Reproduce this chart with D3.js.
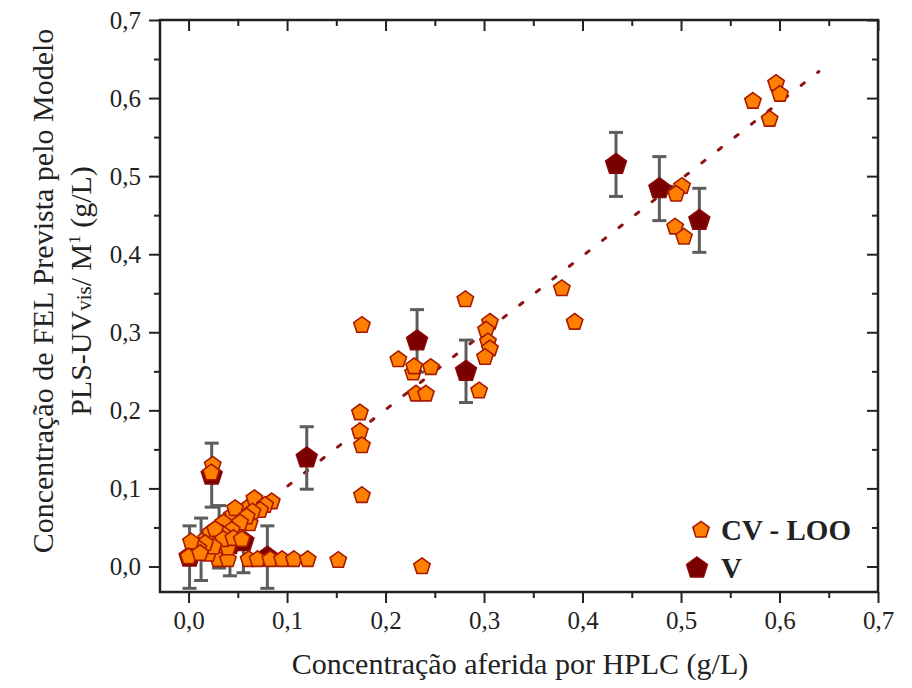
<!DOCTYPE html>
<html>
<head>
<meta charset="utf-8">
<script src="https://cdn.jsdelivr.net/npm/d3@7"></script>
<style>
  html, body { margin: 0; padding: 0; background: #fff; }
  svg { display: block; }
  text { font-family: "Liberation Serif", "Times New Roman", serif; fill: #222; }
</style>
</head>
<body>
<svg id="chart" width="912" height="688"></svg>
<script>
// Cross-validation (leave-one-out) predictions: HPLC value vs model prediction
const cvX = [0.5965, 0.6005, 0.573, 0.590, 0.501, 0.495, 0.494, 0.503,
  0.379, 0.392, 0.281, 0.306, 0.302, 0.304, 0.306, 0.301, 0.295,
  0.213, 0.228, 0.229, 0.246, 0.231, 0.241,
  0.176, 0.174, 0.174, 0.176, 0.176, 0.152, 0.237,
  0.030, 0.040, 0.061, 0.070, 0.083, 0.095, 0.107, 0.121,
  0.005, 0.018, 0.022, 0.030, 0.040, 0.045, 0.055, 0.061, 0.072, 0.050, 0.040, 0.062, 0.020, 0.0015, 0.013,
  0.0845, 0.0668, 0.0777, 0.0726, 0.0648, 0.0472, 0.059, 0.0523, 0.0353, 0.0438,
  0.0337, 0.027, 0.0353, 0.0455, 0.054, 0.0252, 0.0168, 0.010, 0.0025, 0.000, 0.0117,
  0.0245, 0.023];
const cvY = [0.619, 0.605, 0.596, 0.573, 0.487, 0.477, 0.435, 0.422,
  0.356, 0.313, 0.342, 0.313, 0.303, 0.288, 0.279, 0.268, 0.225,
  0.265, 0.248, 0.256, 0.255, 0.221, 0.221,
  0.309, 0.197, 0.173, 0.155, 0.091, 0.008, 0.000,
  0.009, 0.009, 0.009, 0.009, 0.009, 0.009, 0.009, 0.009,
  0.022, 0.036, 0.043, 0.050, 0.060, 0.066, 0.068, 0.076, 0.080, 0.045, 0.024, 0.055, 0.016, 0.015, 0.024,
  0.083, 0.087, 0.0785, 0.072, 0.070, 0.0743, 0.0636, 0.056, 0.056, 0.0466,
  0.0424, 0.0475, 0.0347, 0.036, 0.0347, 0.0253, 0.0296, 0.023, 0.0317, 0.0125, 0.0168,
  0.130, 0.120];

// External validation set with standard deviation bars
const vX = [0.001, 0.0127, 0.031, 0.042, 0.0557, 0.080,
  0.0235, 0.120, 0.232, 0.2817, 0.434, 0.478, 0.5186];
const vY = [0.012, 0.022, 0.038, 0.028, 0.032, 0.012,
  0.117, 0.139, 0.289, 0.250, 0.515, 0.484, 0.4434];
const vErr = [0.040, 0.040, 0.040, 0.040, 0.040, 0.040,
  0.041, 0.040, 0.040, 0.040, 0.041, 0.041, 0.041];

// Regression trend line end points
const fitX = [0.0, 0.64];
const fitY = [0.004, 0.634];

const majorTicks = [0, 0.1, 0.2, 0.3, 0.4, 0.5, 0.6, 0.7];
const minorTicks = [0.05, 0.15, 0.25, 0.35, 0.45, 0.55, 0.65];
const xTitle = "Concentração aferida por HPLC (g/L)";
const yTitle1 = "Concentração de FEL Prevista pelo Modelo";
const legendNames = ["CV - LOO", "V"];

const svg = d3.select("#chart");
const plotL = 160, plotR = 878, plotT = 20, plotB = 592;

const x = d3.scaleLinear().domain([-0.029, 0.7]).range([plotL, plotR]);
const y = d3.scaleLinear().domain([-0.0327, 0.7]).range([plotB, plotT]);

const fmt = d => d3.format(".1f")(d).replace(".", ",");

// Pentagon symbol (point up)
const pentagon = {
  draw(context, size) {
    const r = Math.sqrt(size / 2.3776);
    for (let i = 0; i < 5; i++) {
      const a = -Math.PI / 2 + i * 2 * Math.PI / 5;
      const px = r * Math.cos(a), py = r * Math.sin(a);
      if (i === 0) context.moveTo(px, py); else context.lineTo(px, py);
    }
    context.closePath();
  }
};
const cvSymbol = d3.symbol().type(pentagon).size(2.3776 * 8.6 * 8.6);
const vSymbol = d3.symbol().type(pentagon).size(2.3776 * 11 * 11);

// Axes: outward ticks at bottom/left, inward ticks at top/right
function styleAxis(g) {
  g.select(".domain").remove();
  g.selectAll(".tick line").attr("stroke", "#222").attr("stroke-width", 2);
}
svg.append("g").attr("transform", `translate(0,${plotB})`)
  .call(d3.axisBottom(x).tickValues(majorTicks).tickFormat(fmt).tickSize(11).tickPadding(8))
  .call(styleAxis)
  .call(g => g.selectAll("text").attr("font-size", 25).attr("font-family", "Liberation Serif, serif").attr("fill", "#222"));
svg.append("g").attr("transform", `translate(0,${plotB})`)
  .call(d3.axisBottom(x).tickValues(minorTicks).tickFormat("").tickSize(6)).call(styleAxis);

svg.append("g").attr("transform", `translate(${plotL},0)`)
  .call(d3.axisLeft(y).tickValues(majorTicks).tickFormat(fmt).tickSize(11).tickPadding(8))
  .call(styleAxis)
  .call(g => g.selectAll("text").attr("font-size", 25).attr("font-family", "Liberation Serif, serif").attr("fill", "#222"));
svg.append("g").attr("transform", `translate(${plotL},0)`)
  .call(d3.axisLeft(y).tickValues(minorTicks).tickFormat("").tickSize(6)).call(styleAxis);

svg.append("g").attr("transform", `translate(0,${plotT})`)
  .call(d3.axisTop(x).tickValues(majorTicks).tickFormat("").tickSize(-11)).call(styleAxis);
svg.append("g").attr("transform", `translate(0,${plotT})`)
  .call(d3.axisTop(x).tickValues(minorTicks).tickFormat("").tickSize(-6)).call(styleAxis);
svg.append("g").attr("transform", `translate(${plotR},0)`)
  .call(d3.axisRight(y).tickValues(majorTicks).tickFormat("").tickSize(-11)).call(styleAxis);
svg.append("g").attr("transform", `translate(${plotR},0)`)
  .call(d3.axisRight(y).tickValues(minorTicks).tickFormat("").tickSize(-6)).call(styleAxis);

// Frame
svg.append("rect").attr("x", plotL).attr("y", plotT)
  .attr("width", plotR - plotL).attr("height", plotB - plotT)
  .attr("fill", "none").attr("stroke", "#222").attr("stroke-width", 2.5);

// Trend line (dotted)
svg.append("path")
  .datum(fitX.map((d, i) => [d, fitY[i]]))
  .attr("d", d3.line().x(d => x(d[0])).y(d => y(d[1])))
  .attr("fill", "none").attr("stroke", "#8e1212").attr("stroke-width", 3)
  .attr("stroke-dasharray", "4 17").attr("stroke-linecap", "round");

// Error bars for V
const vData = vX.map((d, i) => ({ x: d, y: vY[i], e: vErr[i] }));
const eb = svg.append("g").attr("stroke", "#5c5c5c").attr("stroke-width", 3);
eb.selectAll("line.v").data(vData).join("line").attr("class", "v")
  .attr("x1", d => x(d.x)).attr("x2", d => x(d.x))
  .attr("y1", d => y(d.y + d.e)).attr("y2", d => y(d.y - d.e));
eb.selectAll("line.top").data(vData).join("line").attr("class", "top")
  .attr("x1", d => x(d.x) - 7).attr("x2", d => x(d.x) + 7)
  .attr("y1", d => y(d.y + d.e)).attr("y2", d => y(d.y + d.e));
eb.selectAll("line.bot").data(vData).join("line").attr("class", "bot")
  .attr("x1", d => x(d.x) - 7).attr("x2", d => x(d.x) + 7)
  .attr("y1", d => y(d.y - d.e)).attr("y2", d => y(d.y - d.e));

// V markers
svg.append("g").selectAll("path").data(vData).join("path")
  .attr("d", vSymbol)
  .attr("transform", d => `translate(${x(d.x)},${y(d.y)})`)
  .attr("fill", "#7a0000").attr("stroke", "#8a0a0a").attr("stroke-width", 1.5);

// CV markers
const cvData = cvX.map((d, i) => ({ x: d, y: cvY[i] }));
svg.append("g").selectAll("path").data(cvData).join("path")
  .attr("d", cvSymbol)
  .attr("transform", d => `translate(${x(d.x)},${y(d.y)})`)
  .attr("fill", "#ff8000").attr("stroke", "#a81a00").attr("stroke-width", 1.6);

// Legend
const leg = svg.append("g");
leg.append("path").attr("d", cvSymbol).attr("transform", "translate(701,530)")
  .attr("fill", "#ff8000").attr("stroke", "#a81a00").attr("stroke-width", 1.6);
leg.append("path").attr("d", vSymbol).attr("transform", "translate(697,568)")
  .attr("fill", "#7a0000").attr("stroke", "#8a0a0a").attr("stroke-width", 1.5);
leg.append("text").attr("x", 721).attr("y", 540).attr("font-size", 29).attr("font-weight", "bold").text(legendNames[0]);
leg.append("text").attr("x", 721).attr("y", 578).attr("font-size", 29).attr("font-weight", "bold").text(legendNames[1]);

// Axis titles
svg.append("text").attr("x", 520).attr("y", 674)
  .attr("text-anchor", "middle").attr("font-size", 30).text(xTitle);

const yt = svg.append("g").attr("transform", "translate(0,291) rotate(-90)");
yt.append("text").attr("x", 0).attr("y", 53).attr("text-anchor", "middle")
  .attr("font-size", 30).text(yTitle1);
const t2 = yt.append("text").attr("x", 0).attr("y", 91).attr("text-anchor", "middle").attr("font-size", 30);
t2.append("tspan").text("PLS-UV");
t2.append("tspan").attr("font-size", 21).text("vis");
t2.append("tspan").text("/ M");
t2.append("tspan").attr("font-size", 17).attr("dy", -11).text("1");
t2.append("tspan").attr("dy", 11).text(" (g/L)");
</script>
</body>
</html>
